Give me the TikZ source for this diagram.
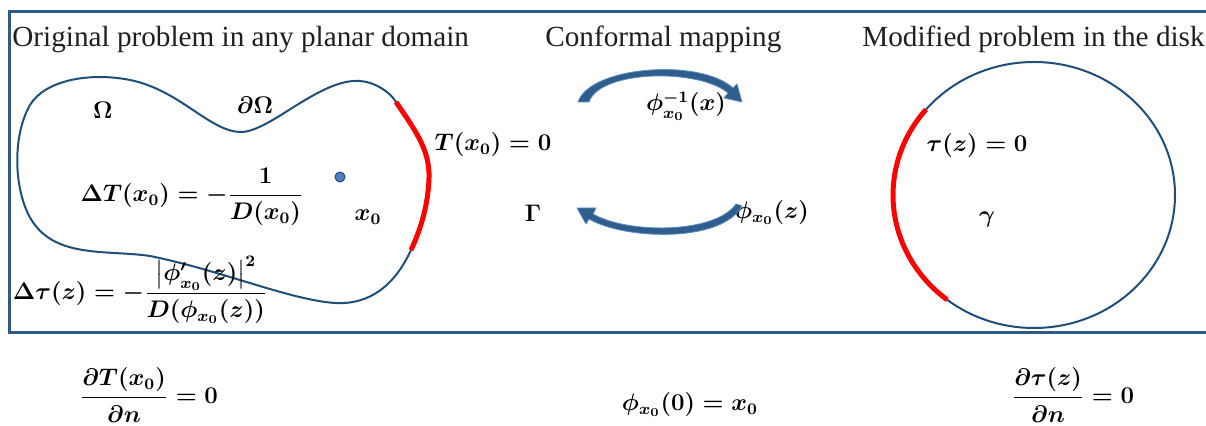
\documentclass[tikz,border=0pt]{standalone}
\usepackage{amsmath}
\usepackage{fontspec}
\setmainfont{Liberation Serif}
\usetikzlibrary{arrows.meta}
\definecolor{framecol}{HTML}{2E5A87}
\definecolor{blobcol}{HTML}{1F4E79}
\definecolor{arrcol}{HTML}{2F5D8C}
\definecolor{arredge}{HTML}{5B8DC4}
\definecolor{dotcol}{HTML}{4F81BD}
\definecolor{redcol}{HTML}{FF0000}
\begin{document}
\begin{tikzpicture}[x=0.5pt,y=-0.5pt,
  title/.style={anchor=base west, inner sep=0, font=\fontsize{14.6}{17}\selectfont, text=black!88},
  eq/.style={inner sep=0, font=\fontsize{12}{14}\selectfont\boldmath},
  outline/.style={draw=blobcol, line width=1pt},
  bc/.style={draw=redcol, line width=2.5pt},
  curvedarrow/.style={fill=arrcol, draw=arredge, line width=0.4pt, line join=round}]
\useasboundingbox (0,0) rectangle (1206,426);
\clip (0,0) rectangle (1206,426);

% frame
\draw[draw=framecol, line width=1.5pt] (9,12) rectangle (1240,333);

% titles
\node[title] (t1) at (12,47) {Original problem in any planar domain};
\node[title] (t2) at (545,47) {Conformal mapping};
\node[title] (t3) at (862,47) {Modified problem in the disk};

% planar domain
\draw[outline] (241,132) .. controls (270,132) and (320,78) .. (360,81)
  .. controls (375,82) and (390,92) .. (396,102)
  .. controls (415,130) and (430,150) .. (429,178)
  .. controls (428,210) and (418,235) .. (411,250)
  .. controls (395,285) and (370,305) .. (335,303)
  .. controls (290,300) and (220,270) .. (150,256)
  .. controls (110,250) and (60,258) .. (35,225)
  .. controls (15,200) and (10,140) .. (30,105)
  .. controls (45,80) and (90,72) .. (130,80)
  .. controls (180,90) and (210,132) .. (241,132) -- cycle;
\draw[bc] (396,102) .. controls (415,130) and (430,150) .. (429,178)
  .. controls (428,210) and (418,235) .. (411,250);

% disk
\draw[outline] (1034,195) ellipse [x radius=141, y radius=133];
\draw[bc] (1034,195) ++(128:141 and 133) arc[start angle=128, end angle=220, x radius=141, y radius=133];

% point x0
\node[circle, fill=dotcol, draw=blobcol, line width=0.5pt, inner sep=0, minimum size=5pt] (dot) at (340,177) {};

% labels in the domain
\node[eq] (om) at (103,110) {$\Omega$};
\node[eq] (dom) at (255,105) {$\partial\Omega$};
\node[eq] (lap) at (192,197) {$\Delta T(x_0) = -\dfrac{1}{D(x_0)}$};
\node[eq] (xo) at (368,217) {$x_0$};
\node[eq] (dir) at (493,145) {$T(x_0) = 0$};
\node[eq] (gam) at (533,213) {$\Gamma$};
\node[eq] (lap2) at (140,290) {$\Delta\tau(z) = -\dfrac{\left|\phi'_{x_0}(z)\right|^2}{D\!\left(\phi_{x_0}(z)\right)}$};

% mapping labels
\node[eq] (inv) at (686,106) {$\phi^{-1}_{x_0}(x)$};
\node[eq] (fwd) at (772,213) {$\phi_{x_0}(z)$};

% disk labels
\node[eq] (dir2) at (977,146) {$\tau(z) = 0$};
\node[eq] (gsm) at (987,220) {$\gamma$};

% bottom row
\node[eq] (neu) at (149,395) {$\dfrac{\partial T(x_0)}{\partial n} = 0$};
\node[eq] (nor) at (690,405) {$\phi_{x_0}(0) = x_0$};
\node[eq] (neu2) at (1073,395) {$\dfrac{\partial\tau(z)}{\partial n} = 0$};

% curved block arrows
\path[curvedarrow] (578,102) .. controls (590,66) and (700,58) .. (733,88)
  -- (737,84) -- (742,102) -- (724,98) -- (728,93)
  .. controls (698,68) and (600,70) .. (589,102) -- cycle;
\path[curvedarrow] (742,206) .. controls (722,243) and (625,240) .. (589,219)
  -- (586,224) -- (577,208) -- (596,208) -- (593,214)
  .. controls (628,234) and (715,234) .. (736,204) -- cycle;
\end{tikzpicture}
\end{document}
